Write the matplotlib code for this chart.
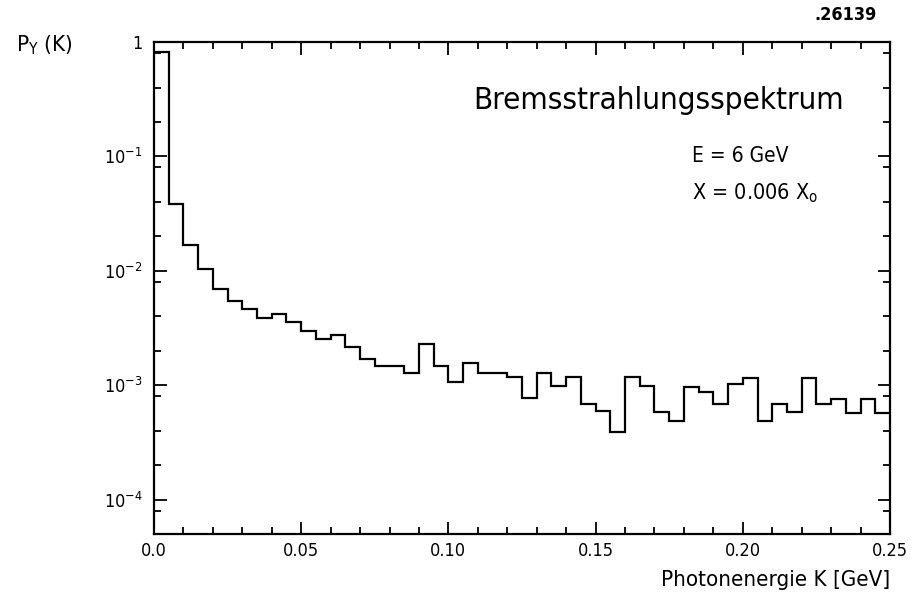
import matplotlib
matplotlib.use("Agg")
import matplotlib.pyplot as plt
from matplotlib.ticker import FixedLocator, MultipleLocator, LogLocator, NullFormatter
import numpy as np

plt.rcParams['font.family'] = ['DejaVu Sans']
plt.rcParams['font.stretch'] = 'condensed'

# histogram: 50 bins of 0.005 GeV from 0 to 0.25
bin_edges = np.linspace(0.0, 0.25, 51)
p_gamma = [
    0.82, 0.0387, 0.0167, 0.0104, 0.0069, 0.0054, 0.0046, 0.0039, 0.0042, 0.00355,
    0.0030, 0.00253, 0.00275, 0.00217, 0.00168, 0.00147, 0.00147, 0.00128, 0.00228, 0.00147,
    0.00107, 0.00157, 0.00129, 0.00127, 0.00117, 0.00078, 0.00127, 0.00098, 0.00117, 0.00068,
    0.00059, 0.00039, 0.00118, 0.00098, 0.00058, 0.00049, 0.00097, 0.00087, 0.00068, 0.00103,
    0.00115, 0.00049, 0.00068, 0.00058, 0.00116, 0.00068, 0.00076, 0.00057, 0.00076, 0.00057,
]

x_ticks = [0.0, 0.05, 0.10, 0.15, 0.20, 0.25]
x_tick_labels = ['0.0', '0.05', '0.10', '0.15', '0.20', '0.25']
y_ticks = [1, 1e-1, 1e-2, 1e-3, 1e-4]
y_tick_labels = ['1', r'10$^{-1}$', r'10$^{-2}$', r'10$^{-3}$', r'10$^{-4}$']

fig = plt.figure(figsize=(9.23, 6.15), dpi=100)
ax = fig.add_axes([0.1668, 0.1317, 0.7975, 0.80])

ax.stairs(p_gamma, bin_edges, baseline=None, color='black', linewidth=1.6)

ax.set_yscale('log')
ax.set_xlim(0.0, 0.25)
ax.set_ylim(5e-5, 1.0)

ax.xaxis.set_major_locator(FixedLocator(x_ticks))
ax.set_xticklabels(x_tick_labels)
ax.xaxis.set_minor_locator(MultipleLocator(0.01))
ax.yaxis.set_major_locator(FixedLocator(y_ticks))
ax.set_yticklabels(y_tick_labels)
ax.yaxis.set_minor_locator(LogLocator(base=10, subs=[2, 4, 8]))
ax.yaxis.set_minor_formatter(NullFormatter())

ax.tick_params(which='both', direction='in', top=True, right=True, width=1.3, labelsize=13)
ax.tick_params(which='major', length=9)
ax.tick_params(which='minor', length=5)
ax.tick_params(axis='x', pad=6)
ax.tick_params(axis='y', pad=8)
for s in ax.spines.values():
    s.set_linewidth(1.6)

# axis labels as free texts, like in the original drawing
fig.text(0.017, 0.927, r'P$_{\mathsf{Y}}$ (K)', fontsize=16, ha='left', va='center')
fig.text(0.964, 0.057, 'Photonenergie K [GeV]', fontsize=16, ha='right', va='center')
fig.text(0.95, 0.976, '.26139', fontsize=13, fontweight='bold', ha='right', va='center')

ax.text(0.685, 0.882, 'Bremsstrahlungsspektrum', transform=ax.transAxes,
        fontsize=22.5, ha='center', va='center')
ax.text(0.731, 0.768, 'E = 6 GeV', transform=ax.transAxes, fontsize=15,
        ha='left', va='center')
ax.text(0.731, 0.692, r'X = 0.006 X$_{\mathsf{o}}$', transform=ax.transAxes, fontsize=15.5,
        ha='left', va='center')

plt.savefig('out.png', dpi=100)
plt.close()
